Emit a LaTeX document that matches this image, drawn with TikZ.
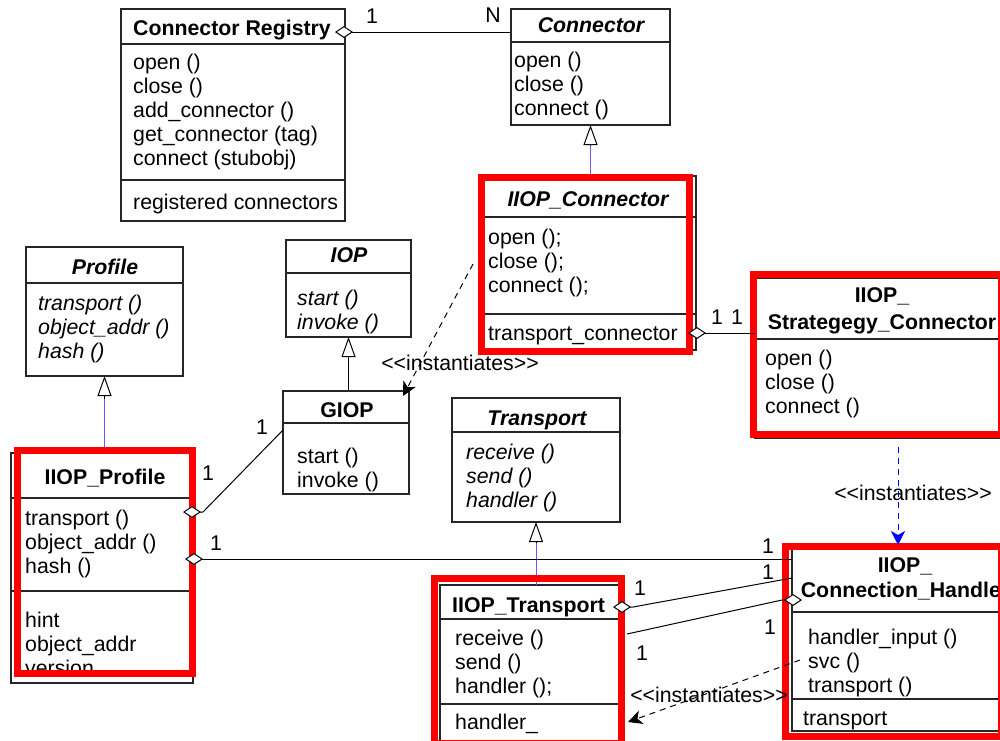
\documentclass[tikz,border=0pt]{standalone}
\usepackage{fontspec}
\setmainfont{Liberation Sans}
\usetikzlibrary{arrows.meta,calc}
\definecolor{hlred}{RGB}{255,0,0}
\definecolor{genpurple}{RGB}{128,80,240}
\definecolor{instblue}{RGB}{0,0,255}
\begin{document}
\begin{tikzpicture}[x=1pt,y=-1pt,
  box/.style={draw=black!85, line width=1.2pt, inner sep=0pt, outer sep=0pt, anchor=north west},
  div/.style={draw=black!85, line width=1.2pt},
  txt/.style={inner sep=0pt, font=\fontsize{21.3}{24}\selectfont, align=left, anchor=north west},
  txti/.style={txt, font=\fontsize{21.3}{24}\selectfont\itshape},
  ttl/.style={inner sep=0pt, font=\fontsize{21.3}{24}\selectfont\bfseries, anchor=base},
  ttli/.style={inner sep=0pt, font=\fontsize{21.3}{24}\selectfont\bfseries\itshape, anchor=base},
  ttlw/.style={ttl, anchor=base west},
  lbl/.style={inner sep=0pt, font=\fontsize{21.3}{24}\selectfont, anchor=base},
  hl/.style={draw=hlred, line width=7pt},
  genl/.style={draw=genpurple, line width=1pt},
  gen/.style={line width=1pt, -{Triangle[fill=white,length=20pt,width=14pt]}},
  agg/.style={line width=1pt, {Diamond[fill=white,length=18pt,width=12pt]}-},
  inst/.style={line width=1pt, dash pattern=on 6pt off 5pt, -{Stealth[length=14pt,width=14pt,inset=4pt]}}
]
\useasboundingbox (0,0) rectangle (1000,740);
\clip (0,0) rectangle (1000,740);
\fill[white] (0,0) rectangle (1000,740);

% ---------- class boxes ----------
\node[box, minimum width=224pt, minimum height=212pt] (reg) at (121,9) {};
\node[box, minimum width=159pt, minimum height=116pt] (conn) at (511,9) {};
\node[box, minimum width=213pt, minimum height=174pt] (iiopc) at (483,176) {};
\node[box, minimum width=254pt, minimum height=160pt] (strat) at (755,278) {};
\node[box, minimum width=157pt, minimum height=129pt] (profile) at (26,247) {};
\node[box, minimum width=182pt, minimum height=230pt] (iiopp) at (11,453) {};
\node[box, minimum width=125pt, minimum height=97pt] (iop) at (286,240) {};
\node[box, minimum width=126pt, minimum height=103pt] (giop) at (283,391) {};
\node[box, minimum width=168pt, minimum height=124pt] (transport) at (452,398) {};
\node[box, minimum width=181pt, minimum height=160pt] (iiopt) at (440,585) {};
\node[box, minimum width=226pt, minimum height=182pt] (ch) at (792,549) {};

% ---------- compartment dividers ----------
\draw[div] (reg.west |- 0,44) -- (reg.east |- 0,44);
\draw[div] (reg.west |- 0,180) -- (reg.east |- 0,180);
\draw[div] (conn.west |- 0,42) -- (conn.east |- 0,42);
\draw[div] (iiopc.west |- 0,217) -- (iiopc.east |- 0,217);
\draw[div] (iiopc.west |- 0,314) -- (iiopc.east |- 0,314);
\draw[div] (strat.west |- 0,339) -- (strat.east |- 0,339);
\draw[div] (profile.west |- 0,283) -- (profile.east |- 0,283);
\draw[div] (iiopp.west |- 0,498) -- (iiopp.east |- 0,498);
\draw[div] (iiopp.west |- 0,591) -- (iiopp.east |- 0,591);
\draw[div] (iop.west |- 0,273) -- (iop.east |- 0,273);
\draw[div] (giop.west |- 0,423) -- (giop.east |- 0,423);
\draw[div] (transport.west |- 0,432) -- (transport.east |- 0,432);
\draw[div] (iiopt.west |- 0,619) -- (iiopt.east |- 0,619);
\draw[div] (iiopt.west |- 0,704) -- (iiopt.east |- 0,704);
\draw[div] (ch.west |- 0,612) -- (ch.east |- 0,612);
\draw[div] (ch.west |- 0,699) -- (ch.east |- 0,699);

% ---------- texts ----------
\node[ttlw] (reg-t) at (133,35) {Connector Registry};
\node[txt] (reg-m) at (133,52) {\strut open ()\\\strut close ()\\\strut add\_connector ()\\\strut get\_connector (tag)\\\strut connect (stubobj)};
\node[txt] (reg-a) at (133,192) {\strut registered connectors};

\node[ttli] (conn-t) at (591,32.5) {Connector};
\node[txt] (conn-m) at (514,50) {\strut open ()\\\strut close ()\\\strut connect ()};

\node[ttli] (iiopc-t) at (588,206.5) {IIOP\_Connector};
\node[txt] (iiopc-m) at (488,227) {\strut open ();\\\strut close ();\\\strut connect ();};
\node[txt] (iiopc-a) at (488,323) {\strut transport\_connector};

\node[ttl] (strat-t1) at (882,302.5) {IIOP\_};
\node[ttl] (strat-t2) at (882,329.5) {Strategegy\_Connector};
\node[txt] (strat-m) at (765,348) {\strut open ()\\\strut close ()\\\strut connect ()};

\node[ttli] (profile-t) at (105,274.5) {Profile};
\node[txti] (profile-m) at (38,293) {\strut transport ()\\\strut object\_addr ()\\\strut hash ()};

\node[ttl] (iiopp-t) at (105,484.5) {IIOP\_Profile};
\node[txt] (iiopp-m) at (25,508) {\strut transport ()\\\strut object\_addr ()\\\strut hash ()};
\node[txt] (iiopp-a) at (25,610) {\strut hint\\\strut object\_addr\\\strut version};
\fill[white] (12.5,676) rectangle (191.5,682.2);

\node[ttli] (iop-t) at (349,262.5) {IOP};
\node[txti] (iop-m) at (297,288) {\strut start ()\\\strut invoke ()};

\node[ttl] (giop-t) at (347,417.5) {GIOP};
\node[txt] (giop-m) at (297,446) {\strut start ()\\\strut invoke ()};

\node[ttli] (transport-t) at (537,425.5) {Transport};
\node[txti] (transport-m) at (466,442) {\strut receive ()\\\strut send ()\\\strut handler ()};

\node[ttlw] (iiopt-t) at (452,612.5) {IIOP\_Transport};
\node[txt] (iiopt-m) at (455,628) {\strut receive ()\\\strut send ()\\\strut handler ();};
\node[txt] (iiopt-a) at (455,712) {\strut handler\_};

\node[ttl] (ch-t1) at (905,572.5) {IIOP\_};
\node[ttl] (ch-t2) at (905,597.5) {Connection\_Handler};
\node[txt] (ch-m) at (808,627) {\strut handler\_input ()\\\strut svc ()\\\strut transport ()};
\node[txt] (ch-a) at (803,708) {\strut transport};

% ---------- generalizations ----------
\draw[genl] (conn.south |- iiopc.north) -- ($(conn.south)+(0,20)$);
\draw[gen] ($(conn.south)+(0,20)$) -- (conn.south);
\draw[genl] (profile.south |- iiopp.north) -- ($(profile.south)+(0,23)$);
\draw[gen] ($(profile.south)+(0,23)$) -- (profile.south);
\draw[line width=1pt] (iop.south |- giop.north) -- ($(iop.south)+(0,22)$);
\draw[gen] ($(iop.south)+(0,22)$) -- (iop.south);
\draw[genl] (transport.south |- iiopt.north) -- ($(transport.south)+(0,21)$);
\draw[gen] ($(transport.south)+(0,21)$) -- (transport.south);

% ---------- highlight frames ----------
\draw[hl] (481,177) rectangle (689,351);
\draw[hl] (753,274) rectangle (1001,434);
\draw[hl] (17,450) rectangle (192,673);
\draw[hl] (434,578) rectangle (621,743);
\draw[hl] (785,546) rectangle (1001,736);

% ---------- aggregations ----------
\draw[agg] ($(reg.north east)+(-10,23)$) -- ($(conn.north west)+(0,23)$);
\draw[agg] ($(iiopc.north east)+(-8,157)$) -- ($(strat.north west)+(0,55)$);
\draw[agg] ($(iiopp.north east)+(-10,59)$) -- ++(20,0) -- ($(giop.north west)+(0,39)$);
\draw[agg] ($(iiopp.north east)+(-8,106)$) -- ($(ch.north west)+(0,10)$);
\draw[agg] ($(iiopt.north east)+(-8,22)$) -- ++(20,0) -- ($(ch.north west)+(0,29)$);
\draw[agg] ($(ch.north west)+(10,51)$) -- ++(-20,0) -- ($(iiopt.north east)+(6,49)$);

% ---------- instantiation dependencies ----------
\draw[inst] ($(iiopc.north west)+(-10,88)$) -- ($(giop.north east)+(-6,5)$);
\draw[inst, draw=instblue] ($(strat.south)+(16,9)$) -- ($(ch.north west)+(106,-4)$);
\draw[inst] ($(ch.north west)+(8,111)$) -- ($(iiopt.north east)+(7,137)$);

% ---------- labels ----------
\node[lbl] (m1) at (372,23.5) {1};
\node[lbl] (mN) at (493,22.5) {N};
\node[lbl] (m2) at (717,324.5) {1};
\node[lbl] (m3) at (737,324.5) {1};
\node[lbl] (m4) at (262,434.5) {1};
\node[lbl] (m5) at (208,480.5) {1};
\node[lbl] (m6) at (216,550.5) {1};
\node[lbl] (m7) at (768,553.5) {1};
\node[lbl] (m8) at (768,579.5) {1};
\node[lbl] (m9) at (640,595.5) {1};
\node[lbl] (m10) at (770,634.5) {1};
\node[lbl] (m11) at (642,660.5) {1};

\node[lbl] (s1) at (460,370.5) {<{}<instantiates>{}>};
\node[lbl] (s2) at (913,500.5) {<{}<instantiates>{}>};
\node[lbl] (s3) at (709,702.5) {<{}<instantiates>{}>};
\end{tikzpicture}
\end{document}
